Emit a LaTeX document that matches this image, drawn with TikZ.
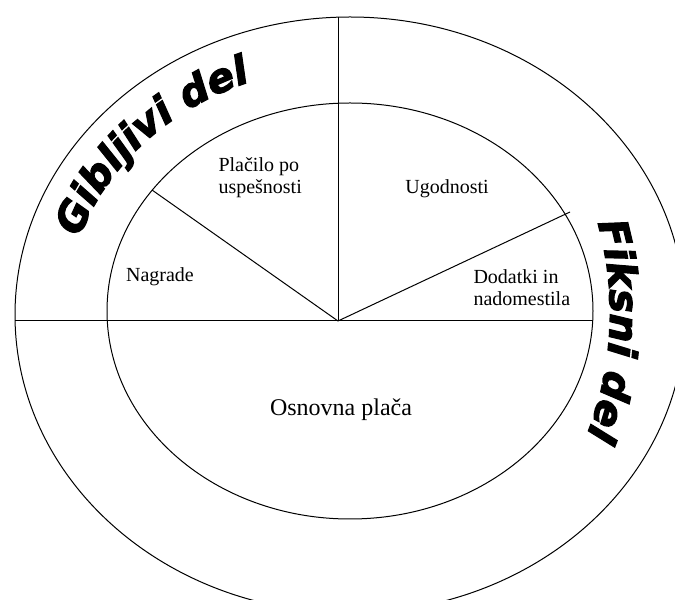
\documentclass[tikz,border=0pt]{standalone}
\usepackage{fontspec}
\setmainfont{Liberation Serif}
\newfontfamily\ringfamily{DejaVu Sans}[BoldItalicFeatures={FakeBold=3}]
\newcommand{\ringfont}{\ringfamily\bfseries\itshape\fontsize{40}{40}\selectfont}
\usetikzlibrary{decorations.text}

\begin{document}
\begin{tikzpicture}[x=1pt, y=1pt, line width=1pt,
    part/.style={align=left, inner sep=0pt, font=\fontsize{20}{22}\selectfont},
    ringtext/.style={decorate, decoration={text along path, text align=center, text={|\ringfont|#1}}}]
  \useasboundingbox (0,0) rectangle (675,600);
  % rings
  \draw (350,285) ellipse [x radius=335, y radius=298];
  \draw (350,289) ellipse [x radius=243, y radius=208];
  % dividers
  \coordinate (hub) at (338,279);
  \coordinate (top) at (338,583);
  \coordinate (west) at (15,279);
  \coordinate (east) at (593,279);
  \coordinate (nwend) at (152,410);
  \coordinate (neend) at (570,388);
  \draw (west) -- (east);
  \draw (hub) -- (top);
  \draw (hub) -- (nwend);
  \draw (hub) -- (neend);
  % parts
  \node[part, anchor=west] (placilo) at (218,422) {Plačilo po\\uspešnosti};
  \node[part] (ugodnosti) at (447,411) {Ugodnosti};
  \node[part] (nagrade) at (160,323) {Nagrade};
  \node[part, anchor=west] (dodatki) at (473,312) {Dodatki in\\nadomestila};
  \node[part, font=\fontsize{24}{26}\selectfont] (osnovna) at (341,190) {Osnovna plača};
  % ring labels
  \path[ringtext={Gibljivi del}] ([shift={(350,287)}]174:284 and 247) arc[start angle=174, end angle=100, x radius=284, y radius=247];
  \path[ringtext={Fiksni del}] ([shift={(350,287)}]30:260 and 295) arc[start angle=30, end angle=-37, x radius=260, y radius=295];
\end{tikzpicture}
\end{document}
